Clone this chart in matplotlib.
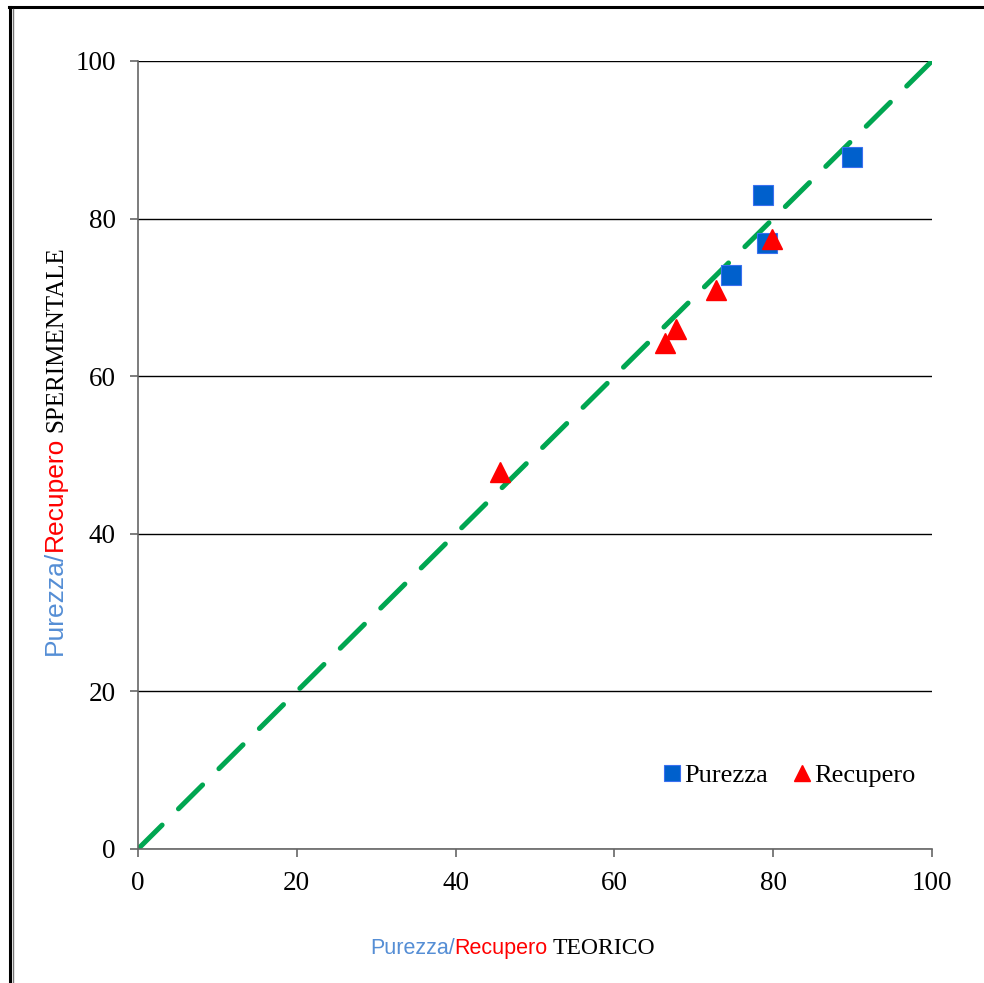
import numpy as np
import matplotlib.pyplot as plt
from matplotlib.lines import Line2D
from matplotlib.transforms import IdentityTransform

# Data
pur_x = [89.9, 78.7, 79.2, 74.7]
pur_y = [87.8, 83.0, 76.9, 72.9]
rec_x = [45.6, 66.4, 67.8, 72.8, 79.9]
rec_y = [47.8, 64.2, 66.0, 70.9, 77.4]
ideal = [0, 100]
ticks = [0, 20, 40, 60, 80, 100]

W, H = 984, 983
SERIF = 'Liberation Serif'
SANS = ['Liberation Sans Narrow', 'Liberation Sans']
BLUE_TXT = '#558ED5'

fig = plt.figure(figsize=(W / 100, H / 100), dpi=100)
ax = fig.add_axes([138 / W, 1 - 849 / H, (932 - 138) / W, (849 - 61) / H])

ax.plot(ideal, ideal, color='#00A651', lw=3.6, dashes=(6.8, 4.6),
        dash_capstyle='round', zorder=2)
ax.plot(pur_x, pur_y, 's', ms=15, color='#0060CC', mec='#3A70F0', mew=0.8,
        ls='none', label='Purezza', zorder=3)
ax.plot(rec_x, rec_y, '^', ms=14.5, color='#FF0000', mec='#FF0000',
        ls='none', label='Recupero', zorder=3)

ax.set_xlim(0, 100)
ax.set_ylim(0, 100)
ax.set_xticks(ticks)
ax.set_yticks(ticks)
ax.yaxis.grid(True, color='black', lw=1)
ax.set_axisbelow(True)
for s in ['top', 'right']:
    ax.spines[s].set_visible(False)
for s in ['left', 'bottom']:
    ax.spines[s].set_color('#666666')
    ax.spines[s].set_linewidth(1.2)
ax.tick_params(direction='out', length=6, width=1.2, color='#666666',
               labelsize=19.5, pad=10)
for lab in ax.get_xticklabels() + ax.get_yticklabels():
    lab.set_fontfamily(SERIF)

leg = ax.legend(loc='center', bbox_to_anchor=(790 / W, 1 - 775 / H),
                bbox_transform=fig.transFigure, ncol=2, frameon=False,
                handlelength=0.6, handletextpad=0.15, columnspacing=1.0,
                markerscale=0.8, prop={'family': SERIF, 'size': 19})


def chain(x0, y0, parts, rot=0):
    r = fig.canvas.get_renderer()
    x, y = x0, y0
    for s, col, fam, size, gap in parts:
        t = fig.text(x, y, s, color=col, family=fam, fontsize=size,
                     rotation=rot, rotation_mode='anchor', ha='left',
                     va='baseline', transform=IdentityTransform())
        bb = t.get_window_extent(renderer=r)
        if rot == 0:
            x += bb.width + gap
        else:
            y += bb.height + gap


fig.canvas.draw()
chain(370, H - 954, [('Purezza/', BLUE_TXT, SANS, 15.5, 0),
                     ('Recupero', '#FF0000', SANS, 15.5, 5),
                     ('TEORICO', 'black', SERIF, 17, 0)])
chain(62, H - 655, [('Purezza/', BLUE_TXT, SANS, 19, 0),
                    ('Recupero', '#FF0000', SANS, 19, 5),
                    ('SPERIMENTALE', 'black', SERIF, 18, 0)], rot=90)

# outer frame of the original picture
fig.add_artist(Line2D([9 / W, 1], [1 - 6.5 / H, 1 - 6.5 / H], color='black',
                      lw=2.2, transform=fig.transFigure))
fig.add_artist(Line2D([9.5 / W, 9.5 / W], [0, 1 - 6.5 / H], color='black',
                      lw=2.2, transform=fig.transFigure))
fig.add_artist(Line2D([12.5 / W, 12.5 / W], [0, 1 - 9 / H], color='#777777',
                      lw=1, transform=fig.transFigure))

fig.savefig('out.png', dpi=100)
